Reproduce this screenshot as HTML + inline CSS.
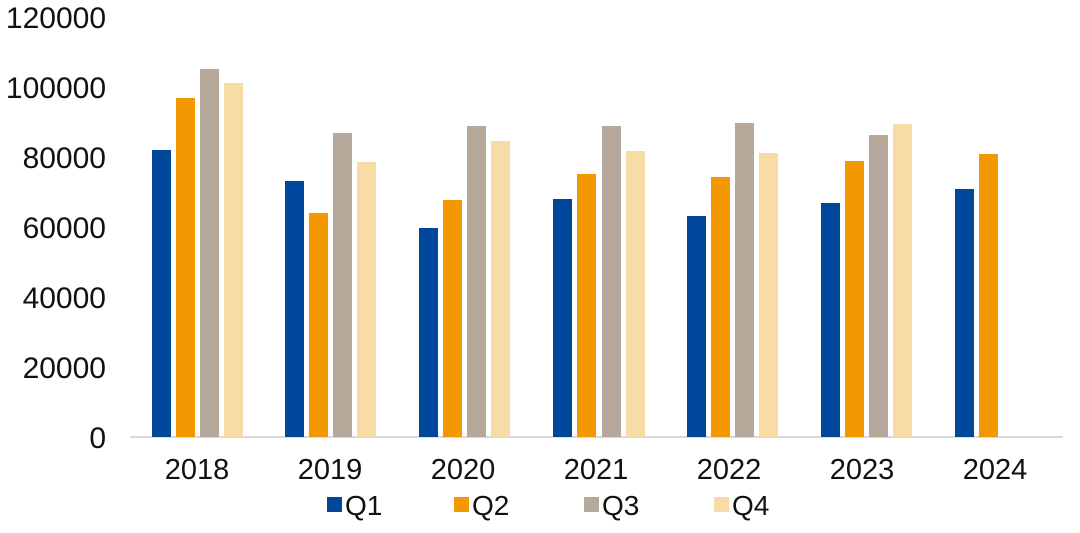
<!DOCTYPE html>
<html><head><style>body{margin:0;background:#fff}</style></head><body>
<svg width="1080" height="528" xmlns="http://www.w3.org/2000/svg" font-family="Liberation Sans, sans-serif">
<g font-size="30" fill="#111" text-anchor="end">
<text x="106" y="28">120000</text><text x="106" y="98">100000</text><text x="106" y="168">80000</text><text x="106" y="238">60000</text><text x="106" y="308">40000</text><text x="106" y="378">20000</text><text x="106" y="448">0</text>
</g>
<line x1="130" y1="437" x2="1063" y2="437" stroke="#d9d9d9" stroke-width="2"/>
<g font-size="29" fill="#111" text-anchor="middle">
<text x="197" y="479">2018</text><text x="330" y="479">2019</text><text x="463" y="479">2020</text><text x="596" y="479">2021</text><text x="729" y="479">2022</text><text x="862" y="479">2023</text><text x="995" y="479">2024</text>
</g>
<g font-size="28" fill="#111">
<rect x="327" y="497" width="15" height="15" fill="#00479b"/><text x="345" y="515">Q1</text>
<rect x="454" y="497" width="15" height="15" fill="#f39800"/><text x="472" y="515">Q2</text>
<rect x="584" y="497" width="15" height="15" fill="#b6a89b"/><text x="602" y="515">Q3</text>
<rect x="714" y="497" width="15" height="15" fill="#f8dca6"/><text x="732" y="515">Q4</text>
</g>
<g>
<rect x="152" y="150" width="19" height="287" fill="#00479b"/>
<rect x="176" y="98" width="19" height="339" fill="#f39800"/>
<rect x="200" y="69" width="19" height="368" fill="#b6a89b"/>
<rect x="224" y="83" width="19" height="354" fill="#f8dca6"/>
<rect x="285" y="181" width="19" height="256" fill="#00479b"/>
<rect x="309" y="213" width="19" height="224" fill="#f39800"/>
<rect x="333" y="133" width="19" height="304" fill="#b6a89b"/>
<rect x="357" y="162" width="19" height="275" fill="#f8dca6"/>
<rect x="419" y="228" width="19" height="209" fill="#00479b"/>
<rect x="443" y="200" width="19" height="237" fill="#f39800"/>
<rect x="467" y="126" width="19" height="311" fill="#b6a89b"/>
<rect x="491" y="141" width="19" height="296" fill="#f8dca6"/>
<rect x="553" y="199" width="19" height="238" fill="#00479b"/>
<rect x="577" y="174" width="19" height="263" fill="#f39800"/>
<rect x="602" y="126" width="19" height="311" fill="#b6a89b"/>
<rect x="626" y="151" width="19" height="286" fill="#f8dca6"/>
<rect x="687" y="216" width="19" height="221" fill="#00479b"/>
<rect x="711" y="177" width="19" height="260" fill="#f39800"/>
<rect x="735" y="123" width="19" height="314" fill="#b6a89b"/>
<rect x="759" y="153" width="19" height="284" fill="#f8dca6"/>
<rect x="821" y="203" width="19" height="234" fill="#00479b"/>
<rect x="845" y="161" width="19" height="276" fill="#f39800"/>
<rect x="869" y="135" width="19" height="302" fill="#b6a89b"/>
<rect x="893" y="124" width="19" height="313" fill="#f8dca6"/>
<rect x="955" y="189" width="19" height="248" fill="#00479b"/>
<rect x="979" y="154" width="19" height="283" fill="#f39800"/>
</g>
</svg>
</body></html>
